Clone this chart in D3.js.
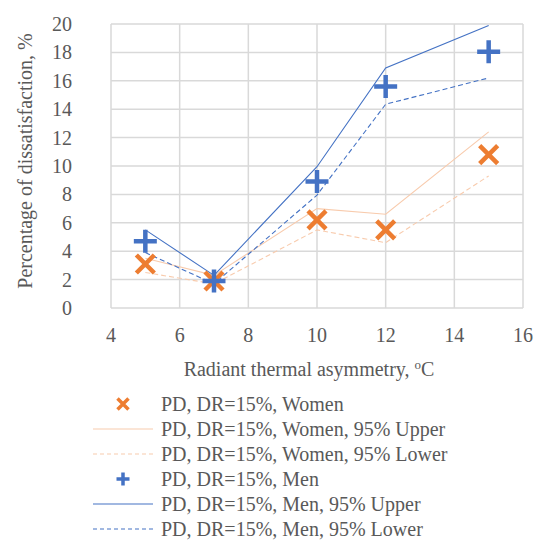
<!DOCTYPE html>
<html>
<head>
<meta charset="utf-8">
<script src="https://cdn.jsdelivr.net/npm/d3@7"></script>
</head>
<body style="margin:0">
<script>
const xs = [5, 7, 10, 12, 15];
const womenPD = [3.1, 1.9, 6.2, 5.5, 10.8];
const womenUpper = [3.5, 2.3, 7.0, 6.6, 12.4];
const womenLower = [2.5, 1.7, 5.5, 4.6, 9.3];
const menPD = [4.7, 1.9, 8.9, 15.6, 18.05];
const menUpper = [5.5, 2.3, 9.95, 16.9, 19.9];
const menLower = [3.9, 1.7, 7.95, 14.35, 16.2];
const xTicks = [4, 6, 8, 10, 12, 14, 16];
const yTicks = [0, 2, 4, 6, 8, 10, 12, 14, 16, 18, 20];
const legendLabels = [
  "PD, DR=15%, Women",
  "PD, DR=15%, Women, 95% Upper",
  "PD, DR=15%, Women, 95% Lower",
  "PD, DR=15%, Men",
  "PD, DR=15%, Men, 95% Upper",
  "PD, DR=15%, Men, 95% Lower"
];

const width = 537, height = 540;
const orange = "#ED7D31", lightOrange = "#F8CBAD", blue = "#4472C4";
const grid = "#d9d9d9";
const textColor = "#595959";
const serif = "'Times New Roman', Tinos, 'Liberation Serif', serif";

const svg = d3.select("body").append("svg")
  .attr("width", width)
  .attr("height", height);

// all labels share the serif font
function label(g) {
  return g.append("text")
    .attr("class", "lbl")
    .style("font-family", serif)
    .attr("font-size", 20)
    .attr("fill", textColor);
}

const x = d3.scaleLinear().domain([4, 16]).range([111, 523]);
const y = d3.scaleLinear().domain([0, 20]).range([308, 24]);

// gridlines
svg.append("g").selectAll("line.v").data(xTicks).enter().append("line")
  .attr("x1", d => x(d)).attr("x2", d => x(d))
  .attr("y1", y(0)).attr("y2", y(20))
  .attr("stroke", grid).attr("stroke-width", 1.5);
svg.append("g").selectAll("line.h").data(yTicks).enter().append("line")
  .attr("x1", x(4)).attr("x2", x(16))
  .attr("y1", d => y(d)).attr("y2", d => y(d))
  .attr("stroke", grid).attr("stroke-width", 1.5);

// tick labels
const yl = svg.append("g");
yTicks.forEach(d => {
  label(yl).attr("x", 72).attr("y", y(d) + 7)
    .attr("text-anchor", "end").text(d);
});
const xl = svg.append("g");
xTicks.forEach(d => {
  label(xl).attr("x", x(d)).attr("y", 342)
    .attr("text-anchor", "middle").text(d);
});

// axis titles
const xt = label(svg)
  .attr("x", 309).attr("y", 376)
  .attr("text-anchor", "middle")
  .text("Radiant thermal asymmetry, ");
xt.append("tspan").attr("dy", -7).attr("font-size", 13).text("o");
xt.append("tspan").attr("dy", 7).text("C");

label(svg)
  .attr("transform", "translate(32, 161) rotate(-90)")
  .attr("text-anchor", "middle")
  .text("Percentage of dissatisfaction, %");

const line = d3.line().x((d, i) => x(xs[i])).y(d => y(d));

function drawLine(data, color, dashed) {
  svg.append("path")
    .datum(data)
    .attr("d", line)
    .attr("fill", "none")
    .attr("stroke", color)
    .attr("stroke-width", 1.1)
    .attr("stroke-dasharray", dashed ? "5,3" : null);
}
drawLine(womenUpper, lightOrange, false);
drawLine(womenLower, lightOrange, true);
drawLine(menUpper, blue, false);
drawLine(menLower, blue, true);

function cross(g, cx, cy, s, w) {
  g.append("path")
    .attr("d", `M${cx - s},${cy - s}L${cx + s},${cy + s}M${cx - s},${cy + s}L${cx + s},${cy - s}`)
    .attr("stroke", orange).attr("stroke-width", w).attr("fill", "none");
}
function plus(g, cx, cy, s, w) {
  g.append("path")
    .attr("d", `M${cx - s},${cy}L${cx + s},${cy}M${cx},${cy - s}L${cx},${cy + s}`)
    .attr("stroke", blue).attr("stroke-width", w).attr("fill", "none");
}

const marks = svg.append("g");
womenPD.forEach((v, i) => cross(marks, x(xs[i]), y(v), 9, 4.5));
menPD.forEach((v, i) => plus(marks, x(xs[i]), y(v), 11.5, 4.5));

// legend
const leg = svg.append("g");
legendLabels.forEach((txt, i) => {
  const ly = 404 + i * 25;
  label(leg).attr("x", 161).attr("y", ly + 7).text(txt);
  if (i === 0) cross(leg, 123, ly, 5.5, 3.5);
  else if (i === 3) plus(leg, 123, ly, 6.5, 3.5);
  else {
    const c = i < 3 ? lightOrange : blue;
    leg.append("line")
      .attr("x1", 93).attr("x2", 153)
      .attr("y1", ly).attr("y2", ly)
      .attr("stroke", c).attr("stroke-width", 1.1)
      .attr("stroke-dasharray", (i === 2 || i === 5) ? "4,3" : null);
  }
});

// re-apply the font once the serif face is loaded, to force a fresh layout
if (document.fonts && document.fonts.load) {
  document.fonts.load("20px 'Times New Roman'").then(() => {
    svg.selectAll("text.lbl").style("font-family", null).style("font-family", serif);
  });
}
</script>
</body>
</html>
